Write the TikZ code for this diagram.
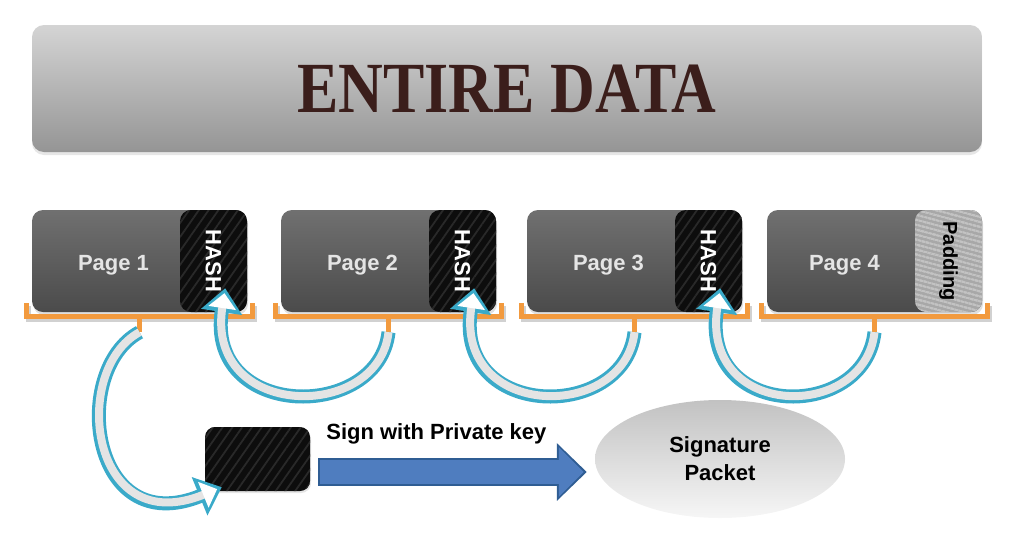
\documentclass[tikz,border=0pt]{standalone}
\usepackage{fontspec}
\setmainfont{Liberation Serif}
\setsansfont{Liberation Sans}
\usepackage{graphicx}
\usetikzlibrary{positioning, calc, arrows.meta, shapes.geometric, shadows, patterns.meta}
\definecolor{bartop}{HTML}{D4D4D4}
\definecolor{barbot}{HTML}{959595}
\definecolor{titlecol}{HTML}{3B1E1B}
\definecolor{pagetop}{HTML}{707070}
\definecolor{pagebot}{HTML}{4B4B4B}
\definecolor{brkcol}{HTML}{F29A3E}
\definecolor{hookcol}{HTML}{3AAAC9}
\definecolor{hookfill}{HTML}{E4E4E4}
\definecolor{signblue}{HTML}{4F7DBF}
\definecolor{signedge}{HTML}{2F5D93}
\definecolor{padcol}{HTML}{A8A8A8}

\begin{document}
\begin{tikzpicture}[x=1pt, y=-1pt,
    topbar/.style={rectangle, rounded corners=12pt, top color=bartop, bottom color=barbot, minimum width=950pt, minimum height=127pt, font=\rmfamily\bfseries\fontsize{72}{72}\selectfont, text=titlecol, drop shadow={shadow xshift=0pt, shadow yshift=-3pt, opacity=.2}},
    page/.style={rectangle, rounded corners=11pt, top color=pagetop, bottom color=pagebot, minimum width=215pt, minimum height=102pt, drop shadow={shadow xshift=1pt, shadow yshift=-3pt, opacity=.25}},
    pglbl/.style={font=\sffamily\bfseries\fontsize{22}{22}\selectfont, text=white!90!black},
    hashbox/.style={rectangle, rounded corners=11pt, fill=black!95, postaction={pattern={Lines[angle=55, distance=8pt, line width=1.8pt]}, pattern color=black!84}, minimum width=67pt, minimum height=102pt, inner sep=0pt, font=\sffamily\bfseries\fontsize{22}{22}\selectfont, text=white},
    padbox/.style={rectangle, rounded corners=11pt, fill=padcol, postaction={pattern={Lines[angle=-15, distance=4pt, line width=1.2pt]}, pattern color=gray!35}, minimum width=67pt, minimum height=102pt, inner sep=0pt, font=\sffamily\bfseries\fontsize{20}{20}\selectfont, text=black},
    brk/.style={draw=brkcol, line width=5pt},
    brkshade/.style={draw=black, opacity=.18, line width=5pt},
    hookout/.style={line width=14pt, draw=hookcol, -{Triangle[length=24pt, width=40pt]}},
    hookin/.style={line width=8pt, draw=hookfill, shorten >=5pt, -{Triangle[length=15pt, width=27pt, color=white]}},
    keybox/.style={rectangle, rounded corners=10pt, fill=black!95, postaction={pattern={Lines[angle=55, distance=8pt, line width=1.8pt]}, pattern color=black!84}, minimum width=105pt, minimum height=64pt, drop shadow={shadow xshift=1pt, shadow yshift=-2pt, opacity=.2}},
    signout/.style={line width=28pt, draw=signedge, -{Triangle[length=30pt, width=56pt]}},
    signin/.style={line width=24pt, draw=signblue, shorten >=3pt, shorten <=2pt, -{Triangle[length=25pt, width=48pt]}},
    signlbl/.style={font=\sffamily\bfseries\fontsize{22}{22}\selectfont, inner sep=0pt},
    sigpacket/.style={ellipse, top color=gray!48, bottom color=gray!7, minimum width=250pt, minimum height=118pt, font=\sffamily\bfseries\fontsize{22}{28}\selectfont, align=center, inner sep=0pt},
  ]
    \useasboundingbox (0,0) rectangle (1024,536);

    \node[topbar] (entire) at (507,88.5) {\scalebox{0.86}[1]{ENTIRE DATA}};

    \node[page, label={[pglbl, xshift=-26pt, yshift=-4pt]center:Page 1}] (page1) at (139.5,261) {};
    \node[page, label={[pglbl, xshift=-26pt, yshift=-4pt]center:Page 2}] (page2) at (388.5,261) {};
    \node[page, label={[pglbl, xshift=-26pt, yshift=-4pt]center:Page 3}] (page3) at (634.5,261) {};
    \node[page, label={[pglbl, xshift=-30pt, yshift=-4pt]center:Page 4}] (page4) at (874.5,261) {};

    \node[hashbox, anchor=east] (hash1) at (page1.east) {\rotatebox{-90}{HASH}};
    \node[hashbox, anchor=east] (hash2) at (page2.east) {\rotatebox{-90}{HASH}};
    \node[hashbox, anchor=east] (hash3) at (page3.east) {\rotatebox{-90}{HASH}};
    \node[padbox, anchor=east] (pad4) at (page4.east) {\rotatebox{-90}{Padding}};

    \foreach \i in {1,...,4} {
      \draw[brkshade] ($(page\i.south west)+(-3,-6)$) |- ($(page\i.south)+(2,7)$) -| ($(page\i.south east)+(7,-6)$);
      \draw[brk] ($(page\i.south west)+(-5,-9)$) |- ($(page\i.south)+(0,4)$) -| ($(page\i.south east)+(5,-9)$);
      \draw[brk] ($(page\i.south)+(0,4)$) -- ($(page\i.south)+(0,20)$) coordinate (t\i);
    }

    \node[keybox] (key) at (257.5,459) {};
    \node[sigpacket] (sig) at (720,459) {Signature\\Packet};

    \foreach \a/\b in {2/1, 3/2, 4/3} {
      \draw[hookout] (t\a) .. controls +(-10,90) and +(-20,132) .. ($(hash\b.south east)+(-22,-24)$);
      \draw[hookin] (t\a) .. controls +(-10,90) and +(-20,132) .. ($(hash\b.south east)+(-22,-24)$);
    }
    \draw[hookout] (t1) .. controls +(-70,38) and +(-132,54) .. ($(key.south west)+(17,-4)$);
    \draw[hookin] (t1) .. controls +(-70,38) and +(-132,54) .. ($(key.south west)+(17,-4)$);

    \draw[signout] ($(key.east)+(8,13)$) -- node[pos=.44, above=14pt, signlbl] (signtxt) {Sign with Private key} ($(sig.west)+(-8,13)$);
    \draw[signin] ($(key.east)+(8,13)$) -- ($(sig.west)+(-8,13)$);
  \end{tikzpicture}
\end{document}
